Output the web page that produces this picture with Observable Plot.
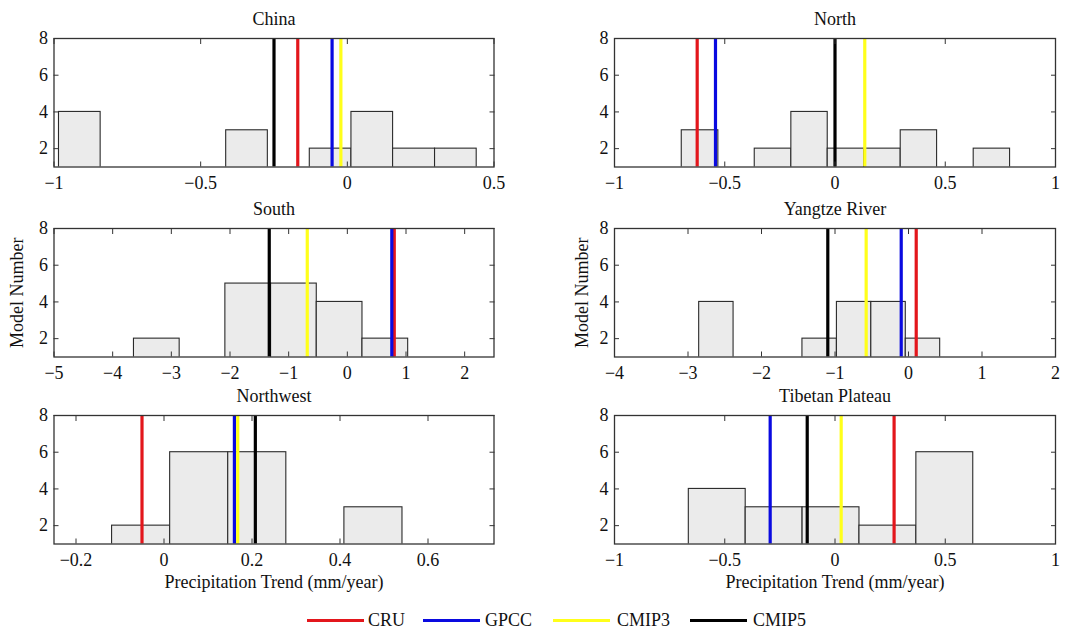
<!DOCTYPE html>
<html><head><meta charset="utf-8">
<script src="https://cdn.jsdelivr.net/npm/d3@7"></script>
<script src="https://cdn.jsdelivr.net/npm/@observablehq/plot@0.6"></script>
<style>
body{margin:0;background:#fff;}
#wrap{position:relative;width:1080px;height:632px;overflow:hidden;font-family:"Liberation Serif","Times New Roman",serif;}
.panel{position:absolute;}
.panel text{font-family:"Liberation Serif","Times New Roman",serif;}
.lg-line{position:absolute;height:3px;width:57px;}
.lg-text{position:absolute;font-size:18px;line-height:20px;color:#111;}
</style></head>
<body><div id="wrap"></div>
<script>
// ---- data ----
const regions = ["China", "North", "South", "Yangtze River", "Northwest", "Tibetan Plateau"];

// histogram bin edges (mm/year) and model counts per bin
const binEdges = [
  [-0.983, -0.841, -0.698, -0.556, -0.413, -0.271, -0.128, 0.014, 0.156, 0.299, 0.441],
  [-0.695, -0.529, -0.364, -0.198, -0.033, 0.132, 0.298, 0.463, 0.629, 0.794],
  [-3.637, -2.858, -2.079, -1.300, -0.521, 0.258, 1.037],
  [-2.848, -2.380, -1.911, -1.443, -0.974, -0.506, -0.037, 0.431],
  [-0.118, 0.014, 0.146, 0.278, 0.410, 0.542],
  [-0.663, -0.405, -0.147, 0.111, 0.369, 0.627]
];
const binCounts = [
  [4, 0, 0, 0, 3, 0, 2, 4, 2, 2],
  [3, 0, 2, 4, 2, 2, 3, 0, 2],
  [2, 0, 5, 5, 4, 2],
  [4, 0, 0, 2, 4, 4, 2],
  [2, 6, 6, 0, 3],
  [4, 3, 3, 2, 6]
];

// reference trend lines
const seriesNames = ["CRU", "GPCC", "CMIP3", "CMIP5"];
const seriesColors = ["#e3161c", "#0a0ae0", "#ffff1a", "#000000"];
const cru   = [-0.169, -0.625,  0.800,  0.105, -0.050,  0.268];
const gpcc  = [-0.052, -0.542,  0.758, -0.099,  0.160, -0.294];
const cmip3 = [-0.022,  0.135, -0.683, -0.576,  0.1675, 0.028];
const cmip5 = [-0.250,  0.000, -1.331, -1.098,  0.2076, -0.126];
const seriesValues = [cru, gpcc, cmip3, cmip5];

// axes
const xDomains = [[-1, 0.5], [-1, 1], [-5, 2.5], [-4, 2], [-0.25, 0.75], [-1, 1]];
const xTicks = [
  [-1, -0.5, 0, 0.5],
  [-1, -0.5, 0, 0.5, 1],
  [-5, -4, -3, -2, -1, 0, 1, 2],
  [-4, -3, -2, -1, 0, 1, 2],
  [-0.2, 0, 0.2, 0.4, 0.6],
  [-1, -0.5, 0, 0.5, 1]
];
const yDomain = [1, 8];
const yTicks = [2, 4, 6, 8];
const xLabel = "Precipitation Trend (mm/year)";
const yLabel = "Model Number";

// ---- layout ----
const colFrameLeft = [53.5, 614];
const colFrameRight = [493.5, 1055];
const rowFrameTop = [38, 227.5, 415];
const frameH = 128.5;
const FONT = "Liberation Serif";
const FS = 18;
const fmt = d => String(d).replace("-", "\u2212");

const wrap = document.getElementById("wrap");

regions.forEach((name, i) => {
  const col = i % 2, row = Math.floor(i / 2);
  const svgLeft = col * 540;
  const mt = 38;
  const svgTop = rowFrameTop[row] - mt;
  const ml = colFrameLeft[col] - svgLeft;
  const mr = svgLeft + 540 - colFrameRight[col];
  const mb = row < 2 ? 30 : 50;
  const bars = binCounts[i].map((c, k) => ({x1: binEdges[i][k], x2: binEdges[i][k + 1], c}));
  const tickOpts = {tickSize: -5, text: null, label: null, stroke: "#333"};
  const marks = [
    Plot.rect(bars.filter(b => b.c > 0), {x1: "x1", x2: "x2", y1: 0, y2: "c", fill: "#ebebeb", stroke: "#2a2a2a", strokeWidth: 1.1, clip: true}),
    ...seriesValues.map((vals, s) => Plot.ruleX([vals[i]], {x: d => d, stroke: seriesColors[s], strokeWidth: 3.2})),
    Plot.frame({stroke: "#333", strokeWidth: 1.3}),
    Plot.axisX(xTicks[i], {anchor: "bottom", ...tickOpts}),
    Plot.axisX(xTicks[i], {anchor: "top", ...tickOpts}),
    Plot.axisX(xTicks[i], {anchor: "bottom", tickSize: 0, tickPadding: 9, tickFormat: fmt, fontSize: FS, fontFamily: FONT, label: null, fill: "#111"}),
    Plot.axisY(yTicks, {anchor: "left", ...tickOpts}),
    Plot.axisY(yTicks, {anchor: "right", ...tickOpts}),
    Plot.axisY(yTicks, {anchor: "left", tickSize: 0, tickPadding: 6, tickFormat: fmt, fontSize: FS, fontFamily: FONT, label: null, fill: "#111"}),
    Plot.text([name], {frameAnchor: "top", dy: -19, lineAnchor: "middle", fontSize: FS, fontFamily: FONT, fill: "#111"})
  ];
  if (row === 1) {
    marks.push(Plot.text([yLabel], {frameAnchor: "left", dx: col === 0 ? -37 : -32, rotate: -90, textAnchor: "middle", lineAnchor: "middle", fontSize: FS, fontFamily: FONT, fill: "#111"}));
  }
  if (row === 2) {
    marks.push(Plot.text([xLabel], {frameAnchor: "bottom", dy: 38, lineAnchor: "middle", fontSize: FS, fontFamily: FONT, fill: "#111"}));
  }
  const chart = Plot.plot({
    width: 540,
    height: mt + frameH + mb,
    marginTop: mt, marginLeft: ml, marginRight: mr, marginBottom: mb,
    x: {domain: xDomains[i]},
    y: {domain: yDomain},
    style: {fontFamily: FONT, fontSize: FS + "px", background: "transparent", overflow: "visible"},
    marks
  });
  chart.classList.add("panel");
  chart.style.left = svgLeft + "px";
  chart.style.top = svgTop + "px";
  wrap.appendChild(chart);
});

// ---- legend ----
const legendLineX = [307, 423, 553, 690];
const legendTextX = [368, 485, 617, 753];
seriesNames.forEach((n, s) => {
  const l = document.createElement("div");
  l.className = "lg-line";
  l.style.left = legendLineX[s] + "px";
  l.style.top = "618.5px";
  l.style.background = seriesColors[s];
  wrap.appendChild(l);
  const t = document.createElement("div");
  t.className = "lg-text";
  t.style.left = legendTextX[s] + "px";
  t.style.top = "610px";
  t.textContent = n;
  wrap.appendChild(t);
});
</script>
</body></html>
